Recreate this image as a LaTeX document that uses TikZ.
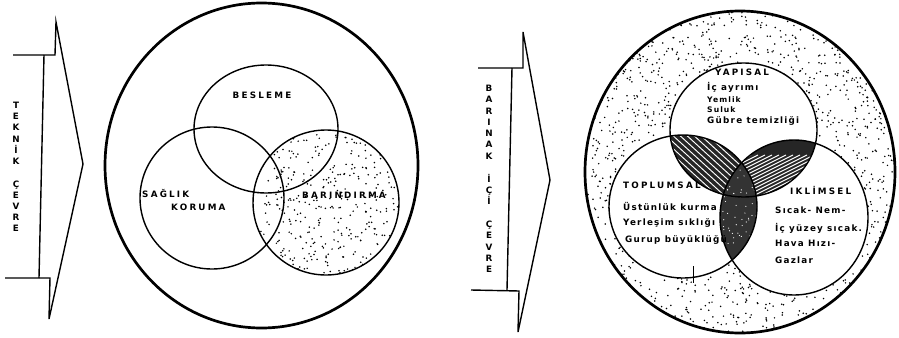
\documentclass[tikz,border=0pt]{standalone}
\usepackage{fontspec}
\newfontfamily\capsfont[LetterSpace=25]{DejaVu Sans}
\newfontfamily\listfont[LetterSpace=14]{DejaVu Sans}
\newfontfamily\stackfont{DejaVu Sans}

\begin{document}
\begin{tikzpicture}[x=0.03cm,y=-0.03cm,
  ring/.style={line width=2.3pt},
  venn/.style={line width=1.2pt},
  arrowline/.style={line width=1.2pt,line join=miter},
  caps/.style={font=\capsfont\bfseries\fontsize{7.5}{9}\selectfont,inner sep=0pt},
  listitem/.style={font=\listfont\bfseries\fontsize{7.5}{9}\selectfont,inner sep=0pt,anchor=west},
  smallitem/.style={listitem,font=\listfont\bfseries\fontsize{6.5}{8}\selectfont},
  stack/.style={font=\stackfont\bfseries\fontsize{7.5}{9.5}\selectfont,align=center,inner sep=0pt,anchor=north}]
  \useasboundingbox (0,0) rectangle (899,337);
  \pgfmathsetseed{17}

  \draw[arrowline] (13,55) -- (55,55) -- (56,22) -- (83,164) -- (49,319) -- (50,278) -- (5,278);
  \draw[arrowline] (44,55) -- (39,278);
  \node[stack] (teknik) at (16,102) {T\\E\\K\\N\\İ\\K\\[10pt]Ç\\E\\V\\R\\E};

  \begin{scope}
    \clip (326,202.5) ellipse [x radius=73, y radius=72.5];
    \foreach \dotindex in {1,...,420} {
      \fill ({253+146*rnd},{130+146*rnd}) circle (0.85);
    }
  \end{scope}
  \draw[ring] (261.5,165.5) ellipse [x radius=156.5, y radius=162.5];
  \draw[venn] (266,129) ellipse [x radius=72, y radius=64];
  \draw[venn] (212,198) ellipse [x radius=72, y radius=71];
  \draw[venn] (326,202.5) ellipse [x radius=73, y radius=72.5];
  \fill (415,200) circle (1.2);

  \node[caps] (besleme) at (262,95) {BESLEME};
  \node[caps,anchor=west] (saglik) at (142,193) {SAĞLIK};
  \node[caps,anchor=west] (koruma) at (171,207) {KORUMA};
  \node[caps,anchor=west] (barindirma) at (302,195) {BARINDIRMA};

  \draw[arrowline] (478,68) -- (523,68) -- (523,32) -- (550,180) -- (518,332) -- (519,291) -- (471,290);
  \draw[arrowline] (512,68) -- (507,290);
  \node[stack,font=\stackfont\bfseries\fontsize{7.5}{9.6}\selectfont] (barinak) at (489,85)
    {B\\A\\R\\I\\N\\A\\K\\[10pt]İ\\Ç\\İ\\[10pt]Ç\\E\\V\\R\\E};

  \begin{scope}
    \clip (740,172) ellipse [x radius=155, y radius=161];
    \foreach \dotindex in {1,...,2000} {
      \fill ({585+310*rnd},{11+322*rnd}) circle (0.85);
    }
  \end{scope}
  \fill[white] (743.5,130) ellipse [x radius=73.5, y radius=67];
  \fill[white] (683,206.5) ellipse [x radius=74, y radius=71.5];
  \fill[white] (794,217.5) ellipse [x radius=74, y radius=77.5];

  \begin{scope}
    \clip (743.5,130) ellipse [x radius=73.5, y radius=67];
    \clip (683,206.5) ellipse [x radius=74, y radius=71.5];
    \fill[black!85] (660,120) rectangle (770,210);
    \foreach \streak in {-160,-153,...,120} {
      \draw[white,line width=0.8pt] ({700+\streak},110) -- ++(120,110);
    }
  \end{scope}
  \begin{scope}
    \clip (743.5,130) ellipse [x radius=73.5, y radius=67];
    \clip (794,217.5) ellipse [x radius=74, y radius=77.5];
    \fill[black!85] (715,130) rectangle (830,210);
    \foreach \streak in {-120,-113,...,160} {
      \draw[white,line width=0.8pt] ({700+\streak},230) -- ++(150,-75);
    }
  \end{scope}
  \begin{scope}
    \clip (683,206.5) ellipse [x radius=74, y radius=71.5];
    \clip (794,217.5) ellipse [x radius=74, y radius=77.5];
    \fill[black!80] (710,140) rectangle (770,280);
    \foreach \speck in {1,...,70} {
      \fill[white] ({720+40*rnd},{160+90*rnd}) circle (0.6);
    }
  \end{scope}

  \draw[ring] (740,172) ellipse [x radius=155, y radius=161];
  \draw[venn] (743.5,130) ellipse [x radius=73.5, y radius=67];
  \draw[venn] (683,206.5) ellipse [x radius=74, y radius=71.5];
  \draw[venn] (794,217.5) ellipse [x radius=74, y radius=77.5];
  \draw[thin] (693,266) -- (693,283);

  \node[caps] (yapisal) at (742,72) {YAPISAL};
  \node[listitem] (ayrim) at (707,87) {İç ayrımı};
  \node[smallitem] (yemlik) at (707,100) {Yemlik};
  \node[smallitem] (suluk) at (707,110) {Suluk};
  \node[listitem] (gubre) at (707,121) {Gübre temizliği};

  \node[caps,anchor=west] (toplumsal) at (623,185) {TOPLUMSAL};
  \node[listitem] (ustunluk) at (623,206) {Üstünlük kurma};
  \node[listitem] (yerlesim) at (623,223) {Yerleşim sıklığı};
  \node[listitem] (gurup) at (625,240) {Gurup büyüklüğü};

  \node[caps,anchor=west] (iklimsel) at (790,190) {IKLİMSEL};
  \node[listitem] (sicak) at (775,210) {Sıcak- Nem-};
  \node[listitem] (yuzey) at (775,228) {İç yüzey sıcak.};
  \node[listitem] (hava) at (775,243) {Hava Hızı-};
  \node[listitem] (gazlar) at (775,260) {Gazlar};
\end{tikzpicture}
\end{document}
